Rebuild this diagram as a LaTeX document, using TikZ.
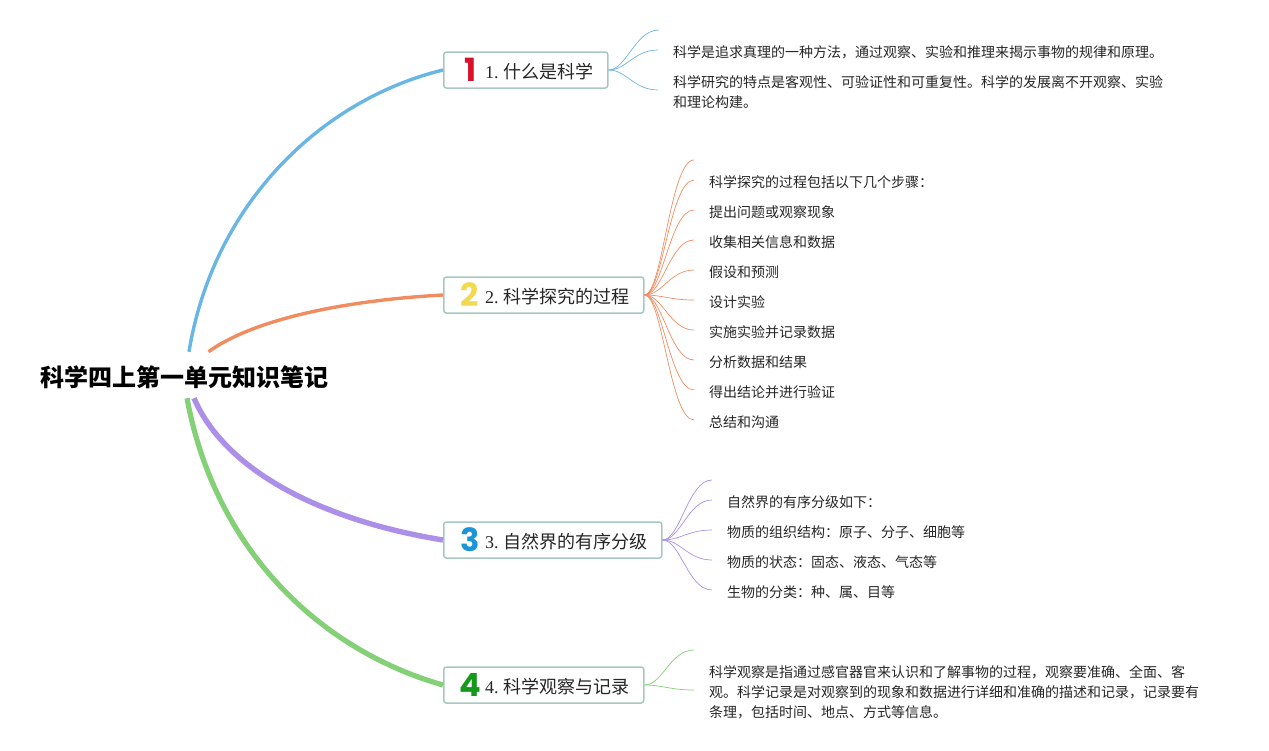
\documentclass[tikz,border=0pt]{standalone}
\usepackage{fontspec}
\setmainfont{Noto Sans CJK SC}
\newfontfamily\latinf{Liberation Serif}
\newfontfamily\digitf{Poppins}
\definecolor{cblue}{HTML}{69B6E4}
\definecolor{corange}{HTML}{F08C60}
\definecolor{cpurple}{HTML}{AB8FE8}
\definecolor{cgreen}{HTML}{84D077}
\definecolor{cbox}{HTML}{A6C8C0}
\tikzset{
  rootnode/.style={font=\fontsize{24}{28}\selectfont\bfseries, inner sep=0pt, minimum height=46pt},
  branchbox/.style={draw=cbox, line width=1.5pt, rounded corners=2.5pt, fill=white, minimum height=36pt, inner sep=0pt, anchor=west, text=black!85},
  digitnode/.style={font=\fontsize{32}{36}\selectfont\digitf\bfseries, inner sep=0pt},
  leafnode/.style={font=\fontsize{14}{20}\selectfont, anchor=west, inner ysep=0pt, inner xsep=15pt, align=left, text=black!85},
  branchlabel/.style={font=\fontsize{18}{22}\selectfont, inner sep=0pt, anchor=west, text=black!85},
  leafline/.style={line width=0.7pt, to path={.. controls +(18,0) and +(-24,0) .. (\tikztotarget)}},
  mainline/.style={line cap=butt},
}
\newcommand{\lat}[1]{{\latinf #1}\hspace{4.6pt}}
\begin{document}
\begin{tikzpicture}[x=1pt,y=-1pt]
\useasboundingbox (0,0) rectangle (1269,750);
% root
\node[rootnode] (root) at (184.5,375) {\raisebox{0pt}[22pt][0pt]{科学四上第一单元知识笔记}};
% branches
\node[branchbox, minimum width=164pt] (b1) at (443,70) {};
\node[branchbox, minimum width=200pt] (b2) at (443,295) {};
\node[branchbox, minimum width=218pt] (b3) at (443,540) {};
\node[branchbox, minimum width=200pt] (b4) at (443,685) {};
\node[digitnode, text={rgb,255:red,217;green,18;blue,44}] (d1) at (470.5,70) {1};
\node[digitnode, text={rgb,255:red,242;green,217;blue,78}] (d2) at (470,295) {2};
\node[digitnode, text={rgb,255:red,27;green,149;blue,217}] (d3) at (470,540) {3};
\node[digitnode, text={rgb,255:red,22;green,152;blue,28}] (d4) at (470.5,685) {4};
\node[branchlabel] (t1) at (485,71.5) {\lat{1.}什么是科学};
\node[branchlabel] (t2) at (485,296.5) {\lat{2.}科学探究的过程};
\node[branchlabel] (t3) at (485,541.5) {\lat{3.}自然界的有序分级};
\node[branchlabel] (t4) at (485,686.5) {\lat{4.}科学观察与记录};
% main connectors
\draw[mainline, cblue, line width=3.4pt] ([xshift=4.5pt]root.north) .. controls (213,205) and (320,100) .. (b1.west);
\draw[mainline, corange, line width=3.4pt] ([xshift=24pt]root.north) .. controls (255,318) and (350,300) .. (b2.west);
\draw[mainline, cpurple, line width=5.4pt] ([xshift=9.5pt]root.south) .. controls (225,470) and (320,520) .. (b3.west);
\draw[mainline, cgreen, line width=5.2pt] ([xshift=2.5pt]root.south) .. controls (215,550) and (320,650) .. (b4.west);
% branch 1
\coordinate (c10) at (659,30);
\node[leafnode] (l11) at (658,52) {科学是追求真理的一种方法，通过观察、实验和推理来揭示事物的规律和原理。};
\node[leafnode] (l12) at (658,92) {科学研究的特点是客观性、可验证性和可重复性。科学的发展离不开观察、实验\\和理论构建。};
\draw[leafline, cblue] (b1.east) to (c10);
\draw[leafline, cblue] (b1.east) to ([yshift=2pt]l11.west);
\draw[leafline, cblue] (b1.east) to ([yshift=2pt]l12.west);
% branch 2
\coordinate (c20) at (694,160);
\node[leafnode] (l21) at (694,182) {科学探究的过程包括以下几个步骤：};
\node[leafnode] (l22) at (694,212) {提出问题或观察现象};
\node[leafnode] (l23) at (694,242) {收集相关信息和数据};
\node[leafnode] (l24) at (694,272) {假设和预测};
\node[leafnode] (l25) at (694,302) {设计实验};
\node[leafnode] (l26) at (694,332) {实施实验并记录数据};
\node[leafnode] (l27) at (694,362) {分析数据和结果};
\node[leafnode] (l28) at (694,392) {得出结论并进行验证};
\node[leafnode] (l29) at (694,422) {总结和沟通};
\draw[leafline, corange] (b2.east) to (c20);
\foreach \i in {1,...,9} \draw[leafline, corange] (b2.east) to ([yshift=2pt]l2\i.west);
% branch 3
\coordinate (c30) at (712,480);
\node[leafnode] (l31) at (712,502) {自然界的有序分级如下：};
\node[leafnode] (l32) at (712,532) {物质的组织结构：原子、分子、细胞等};
\node[leafnode] (l33) at (712,562) {物质的状态：固态、液态、气态等};
\node[leafnode] (l34) at (712,592) {生物的分类：种、属、目等};
\draw[leafline, cpurple] (b3.east) to (c30);
\foreach \i in {1,...,4} \draw[leafline, cpurple] (b3.east) to ([yshift=2pt]l3\i.west);
% branch 4
\coordinate (c40) at (694,650);
\node[leafnode] (l41) at (694,692) {科学观察是指通过感官器官来认识和了解事物的过程，观察要准确、全面、客\\观。科学记录是对观察到的现象和数据进行详细和准确的描述和记录，记录要有\\条理，包括时间、地点、方式等信息。};
\draw[leafline, cgreen] (b4.east) to (c40);
\draw[leafline, cgreen] (b4.east) to ([yshift=2pt]l41.west);
\end{tikzpicture}
\end{document}
